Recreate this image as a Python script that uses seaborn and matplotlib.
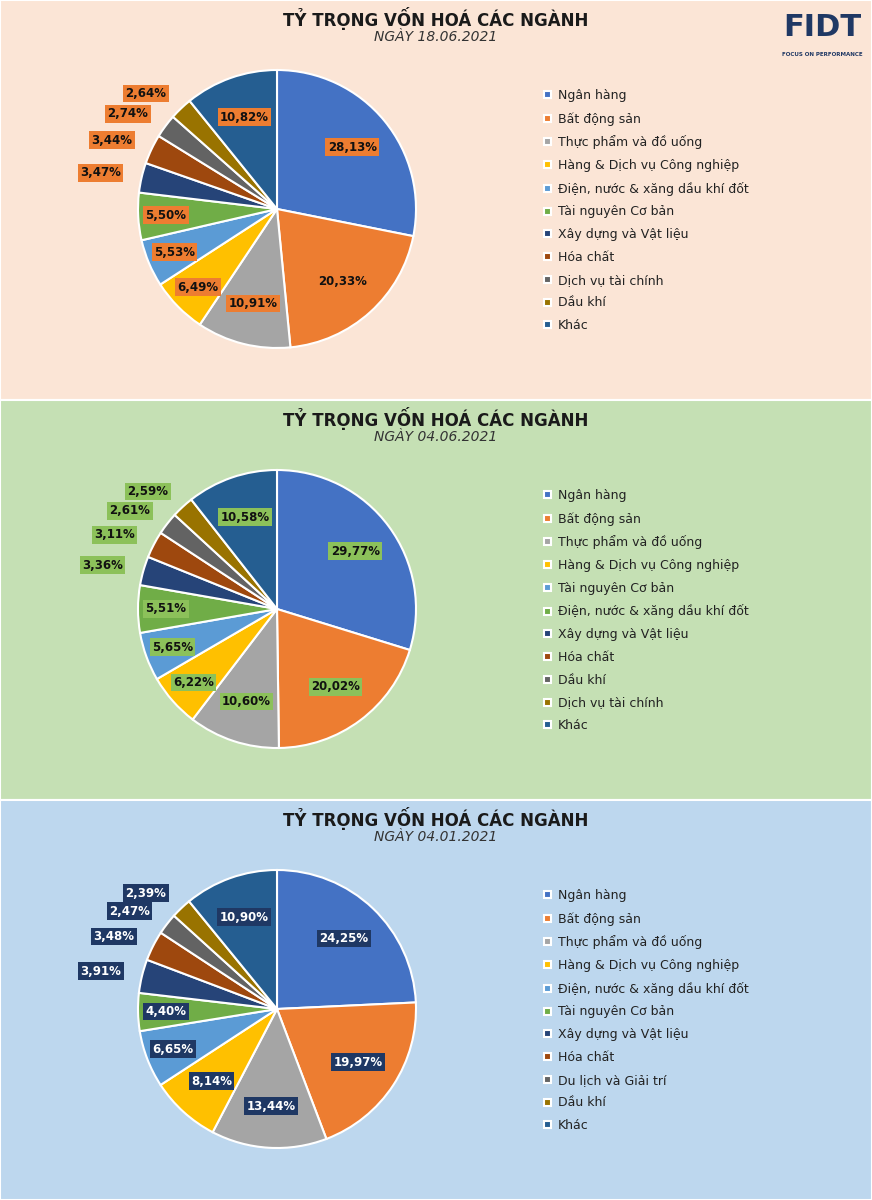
import numpy as np
import matplotlib.pyplot as plt
import seaborn as sns
from matplotlib.patches import Rectangle

sns.set_theme(style="white", font="DejaVu Sans")

# --- DATA ---
dates = ["NGÀY 18.06.2021", "NGÀY 04.06.2021", "NGÀY 04.01.2021"]

sectors_1 = ["Ngân hàng", "Bất động sản", "Thực phẩm và đồ uống", "Hàng & Dịch vụ Công nghiệp",
             "Điện, nước & xăng dầu khí đốt", "Tài nguyên Cơ bản", "Xây dựng và Vật liệu",
             "Hóa chất", "Dịch vụ tài chính", "Dầu khí", "Khác"]
values_1 = [28.13, 20.33, 10.91, 6.49, 5.53, 5.50, 3.47, 3.44, 2.74, 2.64, 10.82]

sectors_2 = ["Ngân hàng", "Bất động sản", "Thực phẩm và đồ uống", "Hàng & Dịch vụ Công nghiệp",
             "Tài nguyên Cơ bản", "Điện, nước & xăng dầu khí đốt", "Xây dựng và Vật liệu",
             "Hóa chất", "Dầu khí", "Dịch vụ tài chính", "Khác"]
values_2 = [29.77, 20.02, 10.60, 6.22, 5.65, 5.51, 3.36, 3.11, 2.61, 2.59, 10.58]

sectors_3 = ["Ngân hàng", "Bất động sản", "Thực phẩm và đồ uống", "Hàng & Dịch vụ Công nghiệp",
             "Điện, nước & xăng dầu khí đốt", "Tài nguyên Cơ bản", "Xây dựng và Vật liệu",
             "Hóa chất", "Du lịch và Giải trí", "Dầu khí", "Khác"]
values_3 = [24.25, 19.97, 13.44, 8.14, 6.65, 4.40, 3.91, 3.48, 2.47, 2.39, 10.90]

colors = ["#4472C4", "#ED7D31", "#A5A5A5", "#FFC000", "#5B9BD5", "#70AD47",
          "#264478", "#9E480E", "#636363", "#997300", "#255E91"]

panel_bg = ["#FBE5D6", "#C5E0B4", "#BDD7EE"]
box_fc = ["#ED7D31", "#8CC15A", "#1F3864"]
box_tc = ["#111111", "#111111", "white"]

panels = [(sectors_1, values_1), (sectors_2, values_2), (sectors_3, values_3)]

W, H = 872, 1200
fig = plt.figure(figsize=(W / 100, H / 100), dpi=100)

for i, (names, vals) in enumerate(panels):
    top = i * 400
    fig.patches.append(Rectangle((0, 1 - (top + 400) / H), 1, 400 / H, transform=fig.transFigure,
                                 facecolor=panel_bg[i], edgecolor="white", lw=1.5, zorder=-1))
    fig.text(436 / W, 1 - (top + 18) / H, "TỶ TRỌNG VỐN HOÁ CÁC NGÀNH", ha="center", va="center",
             fontsize=12, fontweight="bold", color="#1a1a1a")
    fig.text(436 / W, 1 - (top + 37) / H, dates[i], ha="center", va="center",
             fontsize=10, style="italic", color="#333333")

    cy = top + 209
    r = 139
    ax = fig.add_axes([(277 - r) / W, 1 - (cy + r) / H, 2 * r / W, 2 * r / H])
    wedges, _ = ax.pie(vals, colors=colors, startangle=90, counterclock=False,
                       wedgeprops=dict(edgecolor="white", linewidth=1.5))
    ax.set_xlim(-1, 1)
    ax.set_ylim(-1, 1)
    ax.set_aspect("auto")

    # labels
    for j, (w, v) in enumerate(zip(wedges, vals)):
        ang = np.deg2rad((w.theta1 + w.theta2) / 2)
        if v < 4.0 and j < len(vals) - 1:
            d = 1.15
            x, y = d * np.cos(ang) - 0.15, d * np.sin(ang)
        else:
            d = 0.7 if v > 8 else 0.8
            x, y = d * np.cos(ang), d * np.sin(ang)
        ax.text(x, y, f"{v:.2f}%".replace(".", ","), ha="center", va="center",
                fontsize=8.5, fontweight="bold", color=box_tc[i],
                bbox=dict(boxstyle="square,pad=0.2", fc=box_fc[i], ec="none"))

    fig.legend(wedges, names, loc="upper left",
               bbox_to_anchor=(533 / W, 1 - (top + 78) / H), frameon=False,
               fontsize=9, handlelength=0.5, handleheight=0.5, handletextpad=0.6,
               labelspacing=0.78, labelcolor="#222222")

# logo
fig.text(822 / W, 1 - 28 / H, "FIDT", ha="center", va="center", fontsize=22,
         fontweight="bold", color="#1F3864")
fig.text(822 / W, 1 - 54 / H, "FOCUS ON PERFORMANCE", ha="center", va="center",
         fontsize=4, fontweight="bold", color="#1F3864")

fig.savefig("out.png", dpi=100)
